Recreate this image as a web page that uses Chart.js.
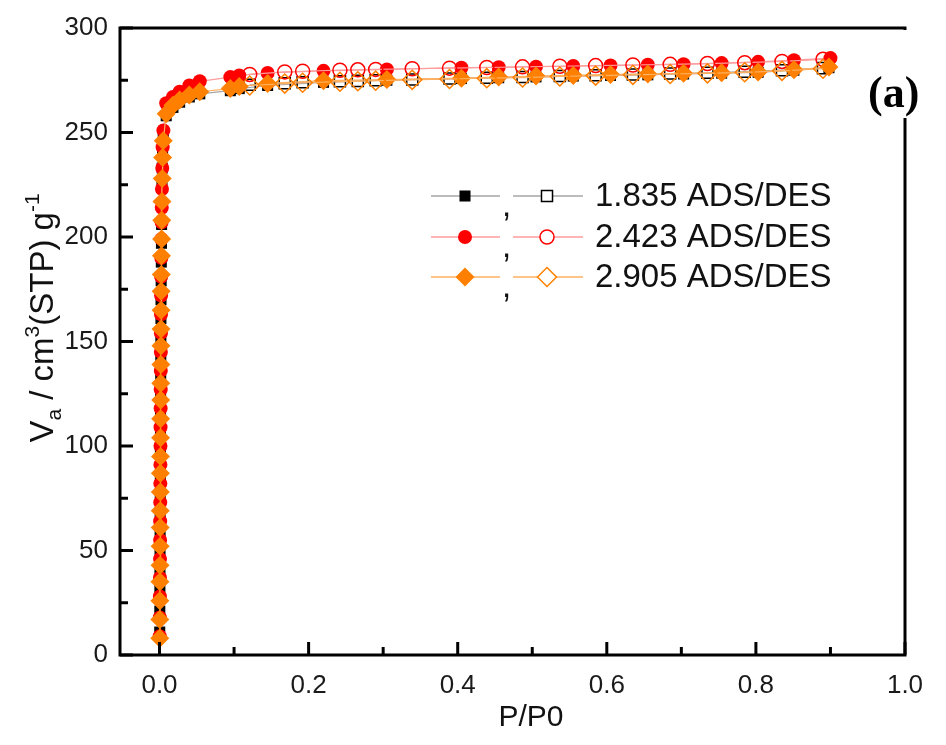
<!DOCTYPE html>
<html>
<head>
<meta charset="utf-8">
<script src="https://cdn.jsdelivr.net/npm/chart.js@4.4.0/dist/chart.umd.min.js"></script>
<style>
    html, body { margin: 0; padding: 0; background: #fff; }
    #wrap { width: 946px; height: 745px; }
</style>
</head>
<body>
<div id="wrap"><canvas id="iso"></canvas></div>
<script>
/* =============================================================================
   N2 ADSORPTION / DESORPTION ISOTHERMS
   ============================================================================= */

// axis ticks
const xTicks = [0, 0.1, 0.2, 0.3, 0.4, 0.5, 0.6, 0.7, 0.8, 0.9, 1.0];
const yTicks = [0, 25, 50, 75, 100, 125, 150, 175, 200, 225, 250, 275, 300];
const sampleLabels = ['1.835 ADS/DES', '2.423 ADS/DES', '2.905 ADS/DES'];

// 1.835 - adsorption
const ads1835P = [0.0003, 0.0004, 0.0005, 0.0006, 0.0007, 0.0008, 0.0009, 0.0010, 0.0011, 0.0012,
    0.0013, 0.0014, 0.0015, 0.0016, 0.0017, 0.0018, 0.0019, 0.0020, 0.0022, 0.0024,
    0.0026, 0.0028, 0.0030, 0.0033, 0.0036, 0.0041, 0.0050,
    0.009, 0.018, 0.027, 0.040, 0.054, 0.095, 0.107, 0.145, 0.220, 0.305,
    0.405, 0.455, 0.505, 0.555, 0.605, 0.655, 0.703, 0.754, 0.803, 0.851, 0.898];
const ads1835V = [11, 21, 31, 41, 50, 59, 68, 77, 86, 96,
    106, 115, 124, 133, 143, 152, 161, 170, 179, 188,
    197, 206, 215, 224, 233, 242, 249,
    258, 262, 264.5, 267, 268.5, 270, 271, 272.5, 274, 275,
    275.8, 276.2, 276.6, 277, 277.3, 277.6, 278, 278.4, 278.8, 279.8, 281];
// 1.835 - desorption
const des1835P = [0.890, 0.835, 0.785, 0.735, 0.685, 0.635, 0.585, 0.537, 0.487,
    0.439, 0.389, 0.339, 0.290, 0.266, 0.242, 0.192, 0.168, 0.121];
const des1835V = [280.8, 279.8, 279.1, 278.6, 278.2, 277.8, 277.4, 277, 276.6,
    276.2, 275.8, 275.4, 275, 274.7, 274.5, 274, 273.6, 272.8];

// 2.423 - adsorption
const ads2423P = [0.0003, 0.0004, 0.0005, 0.0006, 0.0007, 0.0008, 0.0009, 0.0010, 0.0011, 0.0012,
    0.0013, 0.0014, 0.0015, 0.0016, 0.0017, 0.0018, 0.0019, 0.0020, 0.0021, 0.0022,
    0.0024, 0.0026, 0.0028, 0.0030, 0.0033, 0.0037, 0.0042, 0.0052,
    0.009, 0.018, 0.027, 0.040, 0.054, 0.095, 0.107, 0.145, 0.220, 0.305,
    0.405, 0.455, 0.505, 0.555, 0.605, 0.655, 0.703, 0.754, 0.803, 0.851, 0.900];
const ads2423V = [9, 18, 28, 37, 46, 55, 64, 73, 82, 91,
    100, 109, 118, 127, 136, 145, 154, 163, 172, 181,
    190, 199, 207, 214, 223, 233, 243, 251,
    264, 267, 269.5, 272.5, 274.5, 276.5, 277.3, 278.5, 279.5, 280.2,
    281, 281.2, 281.5, 281.8, 282.1, 282.4, 282.7, 283.2, 283.8, 284.6, 285.6];
// 2.423 - desorption
const des2423P = [0.890, 0.835, 0.785, 0.735, 0.685, 0.635, 0.585, 0.537, 0.487,
    0.439, 0.389, 0.339, 0.290, 0.266, 0.242, 0.192, 0.168, 0.121];
const des2423V = [285, 284, 283.4, 283, 282.6, 282.3, 282, 281.7, 281.4,
    281.1, 280.8, 280.5, 280.2, 280, 279.8, 279.3, 279, 277.8];

// 2.905 - adsorption
const ads2905P = [0.0003, 0.0004, 0.0005, 0.0006, 0.0007, 0.0008, 0.0009, 0.0010, 0.0011, 0.0012,
    0.0013, 0.0014, 0.0015, 0.0016, 0.0017, 0.0018, 0.0019, 0.0020, 0.0021, 0.0022,
    0.0024, 0.0026, 0.0028, 0.0030, 0.0033, 0.0037, 0.0042, 0.0050,
    0.009, 0.018, 0.027, 0.040, 0.054, 0.095, 0.107, 0.145, 0.220, 0.305,
    0.405, 0.455, 0.505, 0.555, 0.605, 0.655, 0.703, 0.754, 0.803, 0.851, 0.898];
const ads2905V = [8, 17, 26, 35, 43, 52, 61, 69, 78, 87,
    95, 104, 113, 122, 130, 139, 148, 156, 165, 174,
    182, 191, 199, 208, 217, 228, 238, 246,
    259, 263, 265.5, 268, 269.5, 271, 272, 273.5, 274.8, 275.3,
    276, 276.5, 277, 277.3, 277.8, 278, 278.3, 278.6, 279, 280, 281.3];
// 2.905 - desorption
const des2905P = [0.890, 0.835, 0.785, 0.735, 0.685, 0.635, 0.585, 0.537, 0.487,
    0.439, 0.389, 0.339, 0.290, 0.266, 0.242, 0.192, 0.168, 0.121];
const des2905V = [280.5, 279.5, 278.8, 278.3, 278, 277.6, 277.2, 276.8, 276.3,
    276, 275.6, 275.2, 274.8, 274.5, 274.3, 273.8, 273.4, 272.5];

const toPoints = (px, vy) => px.map((p, i) => ({ x: p, y: vy[i] }));

const FONT = "'Liberation Sans', Arial, sans-serif";

// marker + line styles per sample
const styles = [
    { line: '#a6a6a6', mark: '#000000', shape: 'rect', r: 7.8 },
    { line: '#ff9c9c', mark: '#ff0000', shape: 'circle', r: 7 },
    { line: '#ffb060', mark: '#ff8000', shape: 'rectRot', r: 9.5 }
];

const makeSet = (data, st, filled, order) => ({
    data: data,
    showLine: true,
    borderColor: st.line,
    borderWidth: 1.2,
    pointStyle: st.shape,
    pointRadius: st.r,
    pointBackgroundColor: filled ? st.mark : 'rgba(255,255,255,0)',
    pointBorderColor: st.mark,
    pointBorderWidth: filled ? 0 : 1.5,
    order: order
});

const datasets = [
    makeSet(toPoints(ads1835P, ads1835V), styles[0], true, 6),
    makeSet(toPoints(des1835P, des1835V), styles[0], false, 5),
    makeSet(toPoints(ads2423P, ads2423V), styles[1], true, 4),
    makeSet(toPoints(des2423P, des2423V), styles[1], false, 3),
    makeSet(toPoints(ads2905P, ads2905V), styles[2], true, 2),
    makeSet(toPoints(des2905P, des2905V), styles[2], false, 1)
];

// frame, inward ticks, axis titles, legend and panel tag
const decorPlugin = {
    id: 'decor',
    afterDraw(chart) {
        const ctx = chart.ctx;
        const { left, right, top, bottom } = chart.chartArea;
        const xs = chart.scales.x, ys = chart.scales.y;
        ctx.save();
        ctx.strokeStyle = '#000';
        ctx.lineWidth = 3;
        ctx.lineCap = 'square';

        // frame
        ctx.beginPath();
        ctx.moveTo(left, bottom); ctx.lineTo(left, top); ctx.lineTo(right, top);
        ctx.lineTo(right, bottom); ctx.lineTo(left, bottom);
        ctx.stroke();

        // inward ticks
        ctx.lineCap = 'butt';
        xs.ticks.forEach((t) => {
            const px = xs.getPixelForValue(t.value);
            const major = Math.round(t.value * 10) % 2 === 0;
            ctx.beginPath();
            ctx.moveTo(px, bottom);
            ctx.lineTo(px, bottom - (major ? 13 : 8));
            ctx.stroke();
        });
        ys.ticks.forEach((t) => {
            const py = ys.getPixelForValue(t.value);
            const major = t.value % 50 === 0;
            ctx.beginPath();
            ctx.moveTo(left, py);
            ctx.lineTo(left + (major ? 13 : 8), py);
            ctx.stroke();
        });

        // x axis title
        ctx.fillStyle = '#111';
        ctx.font = '30px ' + FONT;
        ctx.textAlign = 'center';
        ctx.textBaseline = 'middle';
        ctx.fillText('P/P0', 531, 718);

        // y axis title with sub/superscripts
        const parts = [
            { t: 'V', dy: 0, s: 33 },
            { t: 'a', dy: 8, s: 21 },
            { t: ' / cm', dy: 0, s: 33 },
            { t: '3', dy: -14, s: 21 },
            { t: '(STP) g', dy: 0, s: 33 },
            { t: '-1', dy: -14, s: 21 }
        ];
        let total = 0;
        parts.forEach((p) => {
            ctx.font = p.s + 'px ' + FONT;
            p.w = ctx.measureText(p.t).width;
            total += p.w;
        });
        ctx.translate(41, 318 + total / 2);
        ctx.rotate(-Math.PI / 2);
        ctx.textBaseline = 'alphabetic';
        ctx.textAlign = 'left';
        let cx = 0;
        parts.forEach((p) => {
            ctx.font = p.s + 'px ' + FONT;
            ctx.fillText(p.t, cx, 12 + p.dy);
            cx += p.w;
        });
        ctx.restore();

        // legend
        ctx.save();
        const rows = [196, 237, 277];
        rows.forEach((ry, i) => {
            const st = styles[i];
            [[431, 500, 465, true], [513, 583, 547, false]].forEach(([x0, x1, mx, filled]) => {
                ctx.strokeStyle = st.line;
                ctx.lineWidth = 1.5;
                ctx.beginPath();
                ctx.moveTo(x0, ry); ctx.lineTo(x1, ry);
                ctx.stroke();
                ctx.fillStyle = filled ? st.mark : '#fff';
                ctx.strokeStyle = st.mark;
                Chart.helpers.drawPoint(ctx, {
                    pointStyle: st.shape,
                    radius: st.r,
                    rotation: 0,
                    borderWidth: filled ? 0 : 1.5
                }, mx, ry);
            });
            ctx.fillStyle = '#111';
            ctx.font = '33px ' + FONT;
            ctx.textBaseline = 'middle';
            ctx.fillText(',', 502, ry + 11);
            ctx.fillText(sampleLabels[i], 595, ry + 1);
        });

        // panel tag
        ctx.fillStyle = '#fff';
        ctx.fillRect(862, 30, 84, 88);
        ctx.fillStyle = '#000';
        ctx.font = "bold 44px 'Liberation Serif', 'Times New Roman', serif";
        ctx.textAlign = 'left';
        ctx.textBaseline = 'middle';
        ctx.fillText('(a)', 868, 96);
        ctx.restore();
    }
};

const ctx = document.getElementById('iso');

new Chart(ctx, {
    type: 'scatter',
    data: { datasets: datasets },
    options: {
        responsive: true,
        maintainAspectRatio: false,
        animation: false,
        events: [],
        layout: { padding: { top: 28, right: 41, left: 0, bottom: 0 } },
        plugins: {
            legend: { display: false },
            tooltip: { enabled: false }
        },
        scales: {
            x: {
                type: 'linear',
                min: -0.053,
                max: 1.0,
                afterBuildTicks: (scale) => { scale.ticks = xTicks.map((v) => ({ value: v })); },
                afterFit: (scale) => { scale.height = 90; },
                grid: { display: false, drawTicks: false },
                border: { display: false },
                ticks: {
                    autoSkip: false,
                    maxRotation: 0,
                    padding: 15,
                    color: '#1a1a1a',
                    font: { family: FONT, size: 26 },
                    callback: (v) => (Math.round(v * 10) % 2 === 0 ? v.toFixed(1) : '')
                }
            },
            y: {
                type: 'linear',
                min: 0,
                max: 300,
                afterBuildTicks: (scale) => { scale.ticks = yTicks.map((v) => ({ value: v })); },
                afterFit: (scale) => { scale.width = 120; },
                grid: { display: false, drawTicks: false },
                border: { display: false },
                ticks: {
                    autoSkip: false,
                    padding: 12,
                    color: '#1a1a1a',
                    font: { family: FONT, size: 26 },
                    callback: (v) => (v % 50 === 0 ? String(v) : '')
                }
            }
        }
    },
    plugins: [decorPlugin]
});
</script>
</body>
</html>
